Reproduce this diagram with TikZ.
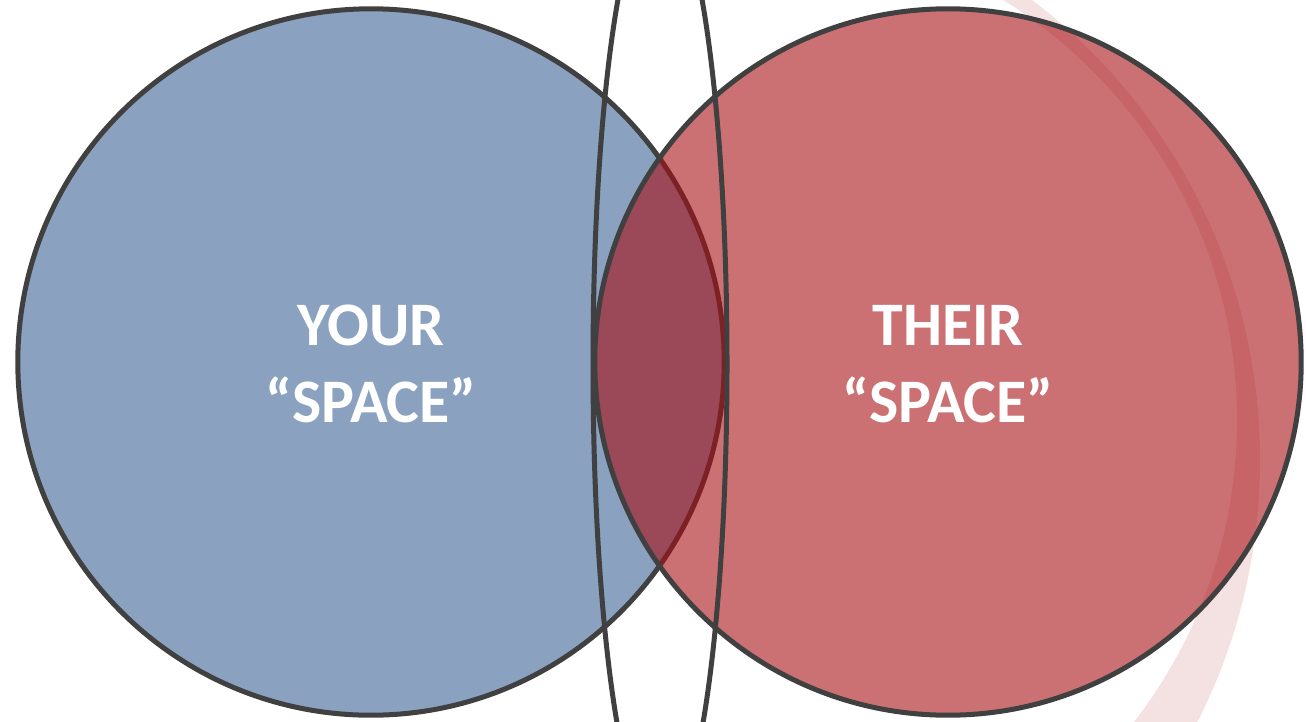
\documentclass[tikz,border=0pt]{standalone}
\usepackage{fontspec}
\setmainfont{Carlito}
\definecolor{blueC}{RGB}{138,161,191}
\definecolor{redC}{RGB}{167,13,18}
\definecolor{lineC}{RGB}{64,64,64}
\definecolor{pinkC}{RGB}{244,226,226}
\begin{document}
\begin{tikzpicture}[x=0.01cm,y=-0.01cm,
  ring/.style={circle, draw=lineC, line width=0.05cm, minimum size=7.06cm, inner sep=0pt},
  label/.style={anchor=base, text=white, font=\fontsize{17.6}{21.9}\selectfont\bfseries, inner sep=0pt}]
\useasboundingbox (0,0) rectangle (1306,721);
\clip (0,0) rectangle (1306,721);
% faint crescent on the right
\begin{scope}
  \clip (960,0) rectangle (1306,721);
  \fill[pinkC, even odd rule] (682,460) circle (578) (743,420) circle (494);
\end{scope}
% circles
\node[ring, fill=blueC] (you) at (371,362) {};
\node[ring, draw=none, fill=redC, fill opacity=0.59] (them) at (948,362) {};
\node[ring] (themline) at (948,362) {};
% tall ellipse
\draw[lineC, line width=0.05cm] (660,364) ellipse [x radius=67, y radius=468];
% labels
\node[label] (y1) at (371,345) {YOUR};
\node[label] (y2) at (371,422) {“SPACE”};
\node[label] (t1) at (948,345) {THEIR};
\node[label] (t2) at (948,422) {“SPACE”};
\end{tikzpicture}
\end{document}
